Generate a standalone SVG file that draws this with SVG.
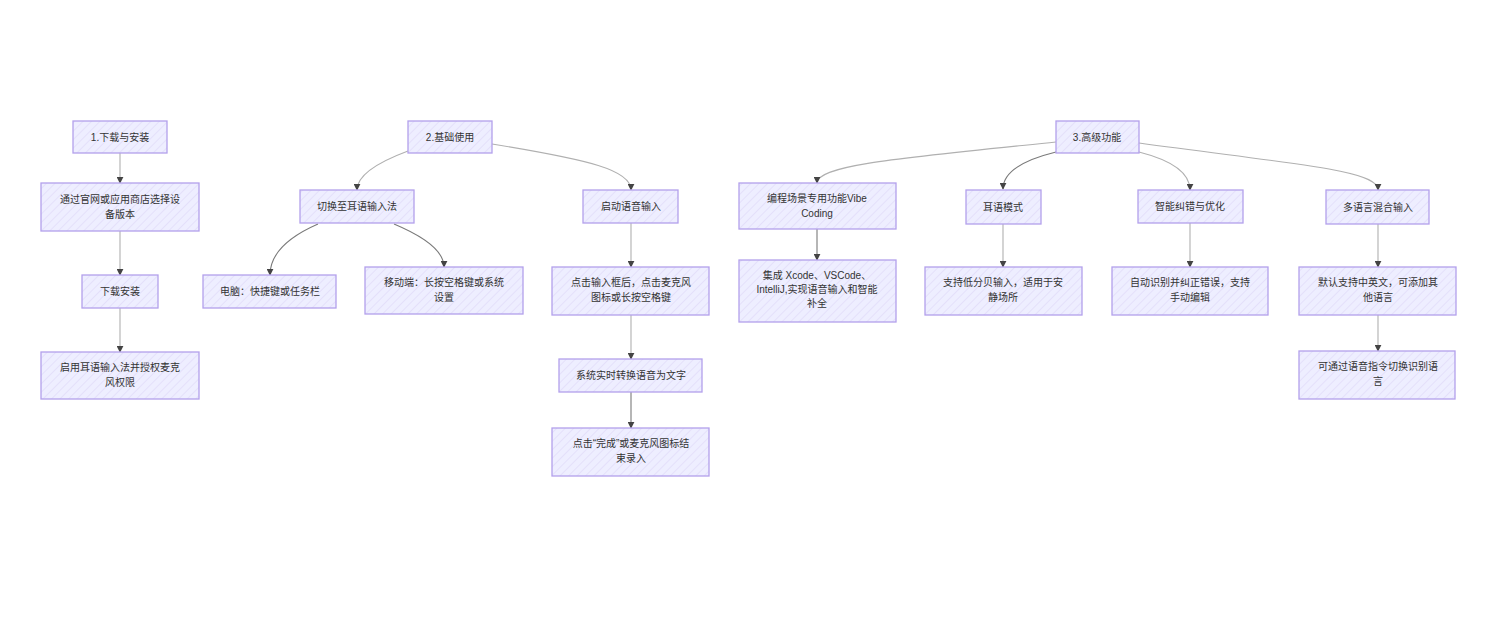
<svg xmlns="http://www.w3.org/2000/svg" width="1503" height="622" viewBox="0 0 1503 622">
<defs>
<pattern id="hatch" patternUnits="userSpaceOnUse" width="6" height="6" patternTransform="rotate(45)">
<rect width="6" height="6" fill="#EEEEFF"/>
<line x1="0" y1="0" x2="0" y2="6" stroke="#dad3f6" stroke-width="1"/>
</pattern>
<marker id="arr" viewBox="0 0 10 10" refX="9" refY="5" markerWidth="7" markerHeight="7" orient="auto-start-reverse" markerUnits="userSpaceOnUse">
<path d="M0,0 L10,5 L0,10 z" fill="#444"/>
</marker>
<style>
.n rect{fill:url(#hatch);stroke:#b3a0ec;stroke-width:1.3}
.n text{font-family:"Liberation Sans","Noto Sans CJK SC",sans-serif;font-size:10px;fill:#333;text-anchor:middle}
.e path{fill:none;stroke:#b0b0b0;stroke-width:1.1;marker-end:url(#arr)}
.e path.d{stroke:#7a7a7a}
</style>
</defs>
<rect width="1503" height="622" fill="#fff"/>
<g class="e" id="connectors">
<path d="M120,153 L120,183"/>
<path d="M120,231 L120,275"/>
<path d="M120,308 L120,352"/>
<path d="M408,151 Q357,170 357,190"/>
<path d="M492,144 C590,160 631,170 631,190"/>
<path class="d" d="M318,224 Q270,245 270,275"/>
<path class="d" d="M394,224 Q444,245 444,267"/>
<path d="M631,223 L631,267"/>
<path d="M631,315 L631,359"/>
<path class="d" d="M631,392 L631,428"/>
<path d="M1056,142 C900,158 817,165 817,183"/>
<path class="d" d="M817,229 L817,260"/>
<path class="d" d="M1056,152 Q1003,165 1003,189"/>
<path d="M1139,152 Q1190,165 1190,190"/>
<path d="M1139,143 C1300,165 1378,170 1378,190"/>
<path d="M1003,224 L1003,267"/>
<path d="M1190,223 L1190,267"/>
<path d="M1378,224 L1378,267"/>
<path d="M1378,315 L1378,351"/>
</g>
<g class="n" id="n1"><rect x="73" y="121" width="94" height="32"/><text x="120" y="140.5">1.下载与安装</text></g>
<g class="n" id="n1a"><rect x="41" y="183" width="158" height="48"/><text x="120" y="202.5">通过官网或应用商店选择设<tspan x="120" dy="15">备版本</tspan></text></g>
<g class="n" id="n1b"><rect x="82" y="275" width="76" height="33"/><text x="120" y="295">下载安装</text></g>
<g class="n" id="n1c"><rect x="41" y="352" width="158" height="47"/><text x="120" y="371">启用耳语输入法并授权麦克<tspan x="120" dy="15">风权限</tspan></text></g>
<g class="n" id="n2"><rect x="408" y="121" width="84" height="32"/><text x="450" y="140.5">2.基础使用</text></g>
<g class="n" id="n2a"><rect x="300" y="190" width="114" height="33"/><text x="357" y="210">切换至耳语输入法</text></g>
<g class="n" id="n2a1"><rect x="203" y="275" width="133" height="33"/><text x="270" y="295">电脑：快捷键或任务栏</text></g>
<g class="n" id="n2a2"><rect x="365" y="267" width="158" height="47"/><text x="444" y="286">移动端：长按空格键或系统<tspan x="444" dy="15">设置</tspan></text></g>
<g class="n" id="n2b"><rect x="583" y="190" width="95" height="33"/><text x="631" y="210">启动语音输入</text></g>
<g class="n" id="n2b1"><rect x="552" y="267" width="157" height="48"/><text x="631" y="286">点击输入框后，点击麦克风<tspan x="631" dy="15">图标或长按空格键</tspan></text></g>
<g class="n" id="n2b2"><rect x="559" y="359" width="143" height="33"/><text x="631" y="379">系统实时转换语音为文字</text></g>
<g class="n" id="n2b3"><rect x="552" y="428" width="157" height="48"/><text x="631" y="447">点击“完成”或麦克风图标结<tspan x="631" dy="15">束录入</tspan></text></g>
<g class="n" id="n3"><rect x="1056" y="121" width="83" height="32"/><text x="1097" y="140.5">3.高级功能</text></g>
<g class="n" id="n3a"><rect x="739" y="183" width="157" height="46"/><text x="817" y="202">编程场景专用功能Vibe<tspan x="817" dy="15">Coding</tspan></text></g>
<g class="n" id="n3a1"><rect x="739" y="260" width="157" height="62"/><text x="817" y="279">集成 Xcode、VSCode、<tspan x="817" dy="14">IntelliJ,实现语音输入和智能</tspan><tspan x="817" dy="14">补全</tspan></text></g>
<g class="n" id="n3b"><rect x="966" y="190" width="75" height="34"/><text x="1003" y="210.5">耳语模式</text></g>
<g class="n" id="n3b1"><rect x="925" y="267" width="157" height="48"/><text x="1003" y="286">支持低分贝输入，适用于安<tspan x="1003" dy="15">静场所</tspan></text></g>
<g class="n" id="n3c"><rect x="1138" y="190" width="105" height="33"/><text x="1190" y="210">智能纠错与优化</text></g>
<g class="n" id="n3c1"><rect x="1112" y="267" width="156" height="48"/><text x="1190" y="286">自动识别并纠正错误，支持<tspan x="1190" dy="15">手动编辑</tspan></text></g>
<g class="n" id="n3d"><rect x="1326" y="190" width="103" height="34"/><text x="1378" y="210.5">多语言混合输入</text></g>
<g class="n" id="n3d1"><rect x="1299" y="267" width="157" height="48"/><text x="1378" y="286">默认支持中英文，可添加其<tspan x="1378" dy="15">他语言</tspan></text></g>
<g class="n" id="n3d2"><rect x="1299" y="351" width="156" height="48"/><text x="1378" y="370">可通过语音指令切换识别语<tspan x="1378" dy="15">言</tspan></text></g>
</svg>
